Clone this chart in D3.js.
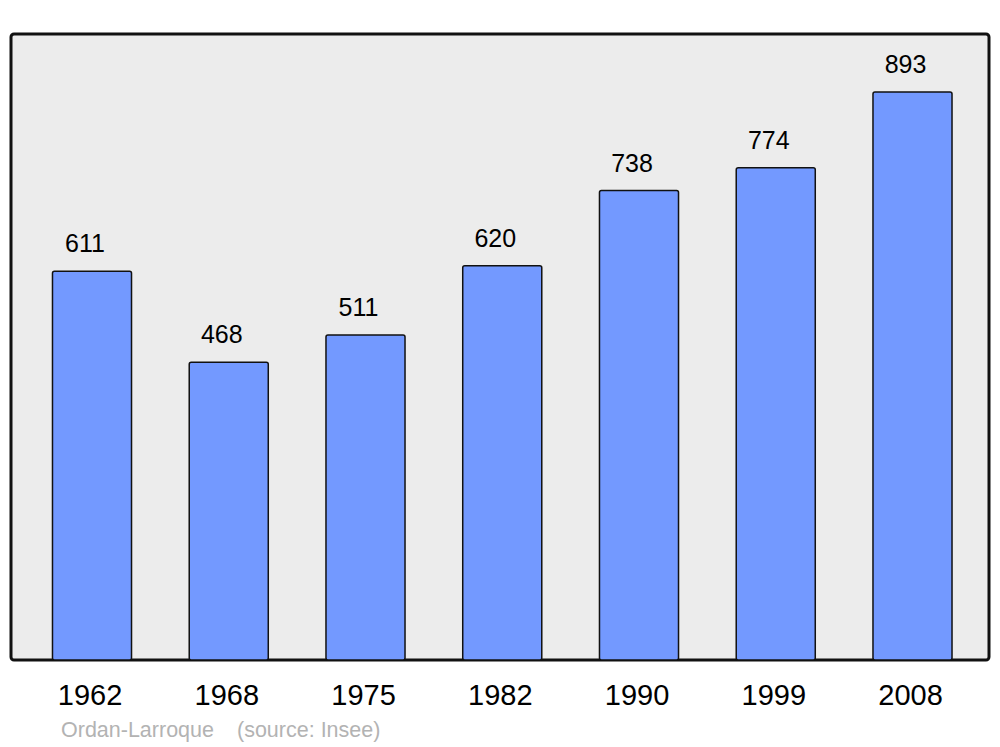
<!DOCTYPE html>
<html>
<head>
<meta charset="utf-8">
<script src="https://cdn.jsdelivr.net/npm/d3@7"></script>
<style>
  body { margin: 0; background: #fff; }
  text { font-family: "Liberation Sans", Arial, sans-serif; }
</style>
</head>
<body>
<div id="chart"></div>
<script>
// Population data
const years = ["1962", "1968", "1975", "1982", "1990", "1999", "2008"];
const population = [611, 468, 511, 620, 738, 774, 893];
const commune = "Ordan-Larroque";
const sourceText = "(source: Insee)";

const width = 1000, height = 747;
const panel = { left: 11, top: 34, right: 989, bottom: 660 };

const svg = d3.select("#chart")
    .append("svg")
    .attr("width", width)
    .attr("height", height);

// Fondo del panel
svg.append("rect")
    .attr("x", panel.left)
    .attr("y", panel.top)
    .attr("width", panel.right - panel.left)
    .attr("height", panel.bottom - panel.top)
    .attr("rx", 3)
    .attr("fill", "#ececec")
    .attr("stroke", "#111")
    .attr("stroke-width", 3);

const x = d3.scaleBand()
    .domain(years)
    .range([10.5, 994])
    .paddingInner(0.422)
    .paddingOuter(0.307);

const y = d3.scaleLinear()
    .domain([0, 893])
    .range([panel.bottom, 92]);

const data = years.map((yr, i) => ({ year: yr, value: population[i] }));

svg.selectAll(".bar")
    .data(data)
    .enter()
    .append("rect")
    .attr("class", "bar")
    .attr("x", d => x(d.year))
    .attr("y", d => y(d.value))
    .attr("width", x.bandwidth())
    .attr("height", d => y(0) - y(d.value))
    .attr("rx", 2)
    .attr("fill", "#7399ff")
    .attr("stroke", "#111")
    .attr("stroke-width", 1.5);

// Etiquetas de valores
svg.selectAll(".val")
    .data(data)
    .enter()
    .append("text")
    .attr("class", "val")
    .attr("x", d => x(d.year) + x.bandwidth() / 2 - 7)
    .attr("y", d => y(d.value) - 19)
    .attr("text-anchor", "middle")
    .style("font-size", "25px")
    .attr("fill", "#000")
    .text(d => d.value);

// Eje X (años)
svg.append("g")
    .attr("class", "x-axis")
    .attr("transform", `translate(-2,705)`)
    .call(d3.axisBottom(x).tickSize(0).tickPadding(0))
    .call(g => g.select(".domain").remove())
    .selectAll("text")
    .attr("dy", 0)
    .attr("y", 0)
    .style("font-size", "29px")
    .style("font-family", "Liberation Sans, Arial, sans-serif")
    .attr("fill", "#000");

// Fuente
svg.append("text")
    .attr("x", 61)
    .attr("y", 737)
    .style("font-size", "21.5px")
    .attr("fill", "#b3b3b3")
    .text(commune);

svg.append("text")
    .attr("x", 237)
    .attr("y", 737)
    .style("font-size", "21.5px")
    .attr("fill", "#b3b3b3")
    .text(sourceText);
</script>
</body>
</html>
